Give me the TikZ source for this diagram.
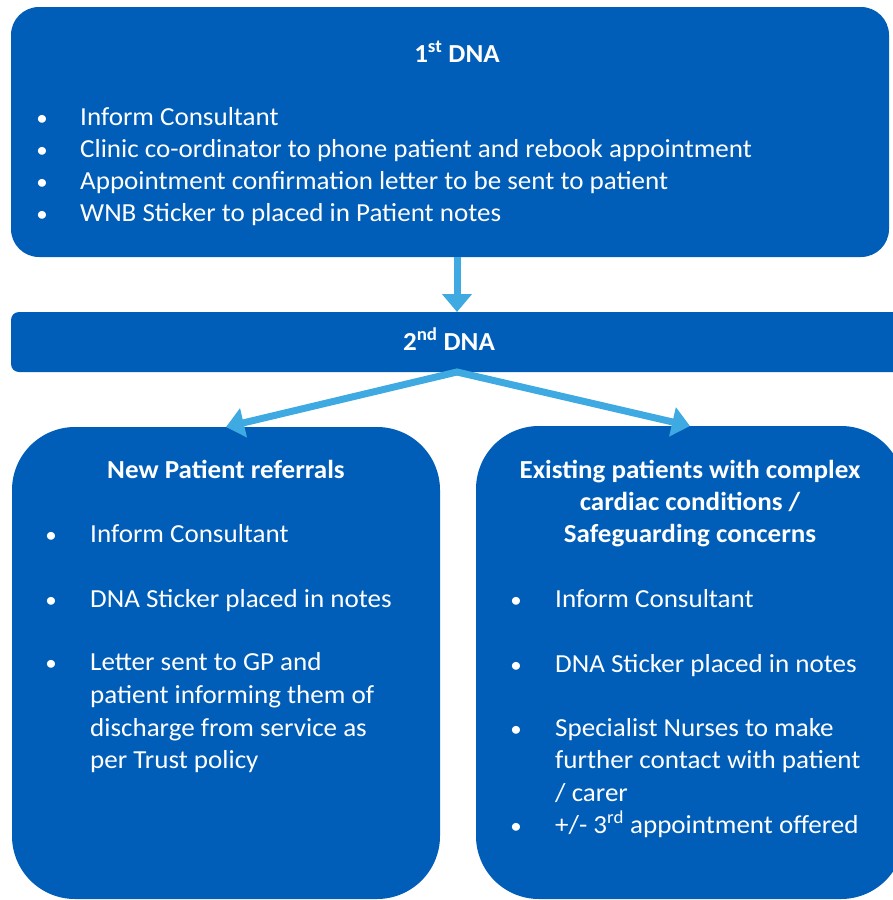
\documentclass[tikz,border=0pt]{standalone}
\usepackage{fontspec}
\setmainfont{Carlito}[FakeStretch=1.04]
\usetikzlibrary{arrows.meta}
\definecolor{nhsblue}{HTML}{005EB8}
\definecolor{arrblue}{HTML}{3FAAE2}
\tikzset{
  box/.style={fill=nhsblue, draw=none, inner sep=0pt, outer sep=0pt},
  txt/.style={text=white, font=\fontsize{26}{30}\selectfont, anchor=base west, inner sep=0pt},
  ttl/.style={text=white, font=\fontsize{26}{30}\selectfont\bfseries, anchor=base, inner sep=0pt},
  bul/.style={text=white, font=\fontsize{22}{26}\selectfont, anchor=base, inner sep=0pt},
  conn/.style={draw=arrblue, line width=7pt, -{Triangle[width=29pt,length=18pt]}}
}
\begin{document}
\begin{tikzpicture}[x=1pt,y=-1pt]
\useasboundingbox (0,0) rectangle (892,900);
% boxes
\node[box, rounded corners=28pt, minimum width=878pt, minimum height=250pt] (top) at (450,132) {};
\node[box, rounded corners=8pt, minimum width=894pt, minimum height=60pt] (bar) at (458,342) {};
\node[box, rounded corners=63pt, minimum width=428pt, minimum height=472pt] (left) at (226,663) {};
\node[box, rounded corners=63pt, minimum width=428pt, minimum height=473pt] (right) at (690,662.5) {};
% connector anchor points
\coordinate (c1) at (457,0);
% top box text
\node[ttl] (t0) at (457,62) {1\textsuperscript{st} DNA};
\node[bul] (tb1) at (42,125) {•};
\node[txt] (t1) at (80,125) {Inform Consultant};
\node[bul] (tb2) at (42,157) {•};
\node[txt] (t2) at (80,157) {Clinic co-ordinator to phone patient and rebook appointment};
\node[bul] (tb3) at (42,189) {•};
\node[txt] (t3) at (80,189) {Appointment confirmation letter to be sent to patient};
\node[bul] (tb4) at (42,221) {•};
\node[txt] (t4) at (80,221) {WNB Sticker to placed in Patient notes};
% bar text
\node[ttl] (b0) at (449,350) {2\textsuperscript{nd} DNA};
% left box text
\node[ttl] (l0) at (226,478) {New Patient referrals};
\node[bul] (lb1) at (51,542) {•};
\node[txt] (l1) at (90,542) {Inform Consultant};
\node[bul] (lb2) at (51,607) {•};
\node[txt] (l2) at (90,607) {DNA Sticker placed in notes};
\node[bul] (lb3) at (51,670) {•};
\node[txt] (l3) at (90,670) {Letter sent to GP and};
\node[txt] (l4) at (90,703) {patient informing them of};
\node[txt] (l5) at (90,736) {discharge from service as};
\node[txt] (l6) at (90,768) {per Trust policy};
% right box text
\node[ttl] (r0a) at (690,478) {Existing patients with complex};
\node[ttl] (r0b) at (690,510) {cardiac conditions /};
\node[ttl] (r0c) at (690,542) {Safeguarding concerns};
\node[bul] (rb1) at (516,607) {•};
\node[txt] (r1) at (555,607) {Inform Consultant};
\node[bul] (rb2) at (516,672) {•};
\node[txt] (r2) at (555,672) {DNA Sticker placed in notes};
\node[bul] (rb3) at (516,736) {•};
\node[txt] (r3) at (555,736) {Specialist Nurses to make};
\node[txt] (r4) at (555,768) {further contact with patient};
\node[txt] (r5) at (555,801) {/ carer};
\node[bul] (rb4) at (516,833) {•};
\node[txt] (r6) at (555,833) {+/- 3\textsuperscript{rd} appointment offered};
% connectors
\draw[conn] (top.south -| c1) -- (bar.north -| c1);
\draw[conn, shorten <=-1pt] (bar.south -| c1) -- (left.north);
\draw[conn, shorten <=-1pt] (bar.south -| c1) -- (right.north);
\end{tikzpicture}
\end{document}
